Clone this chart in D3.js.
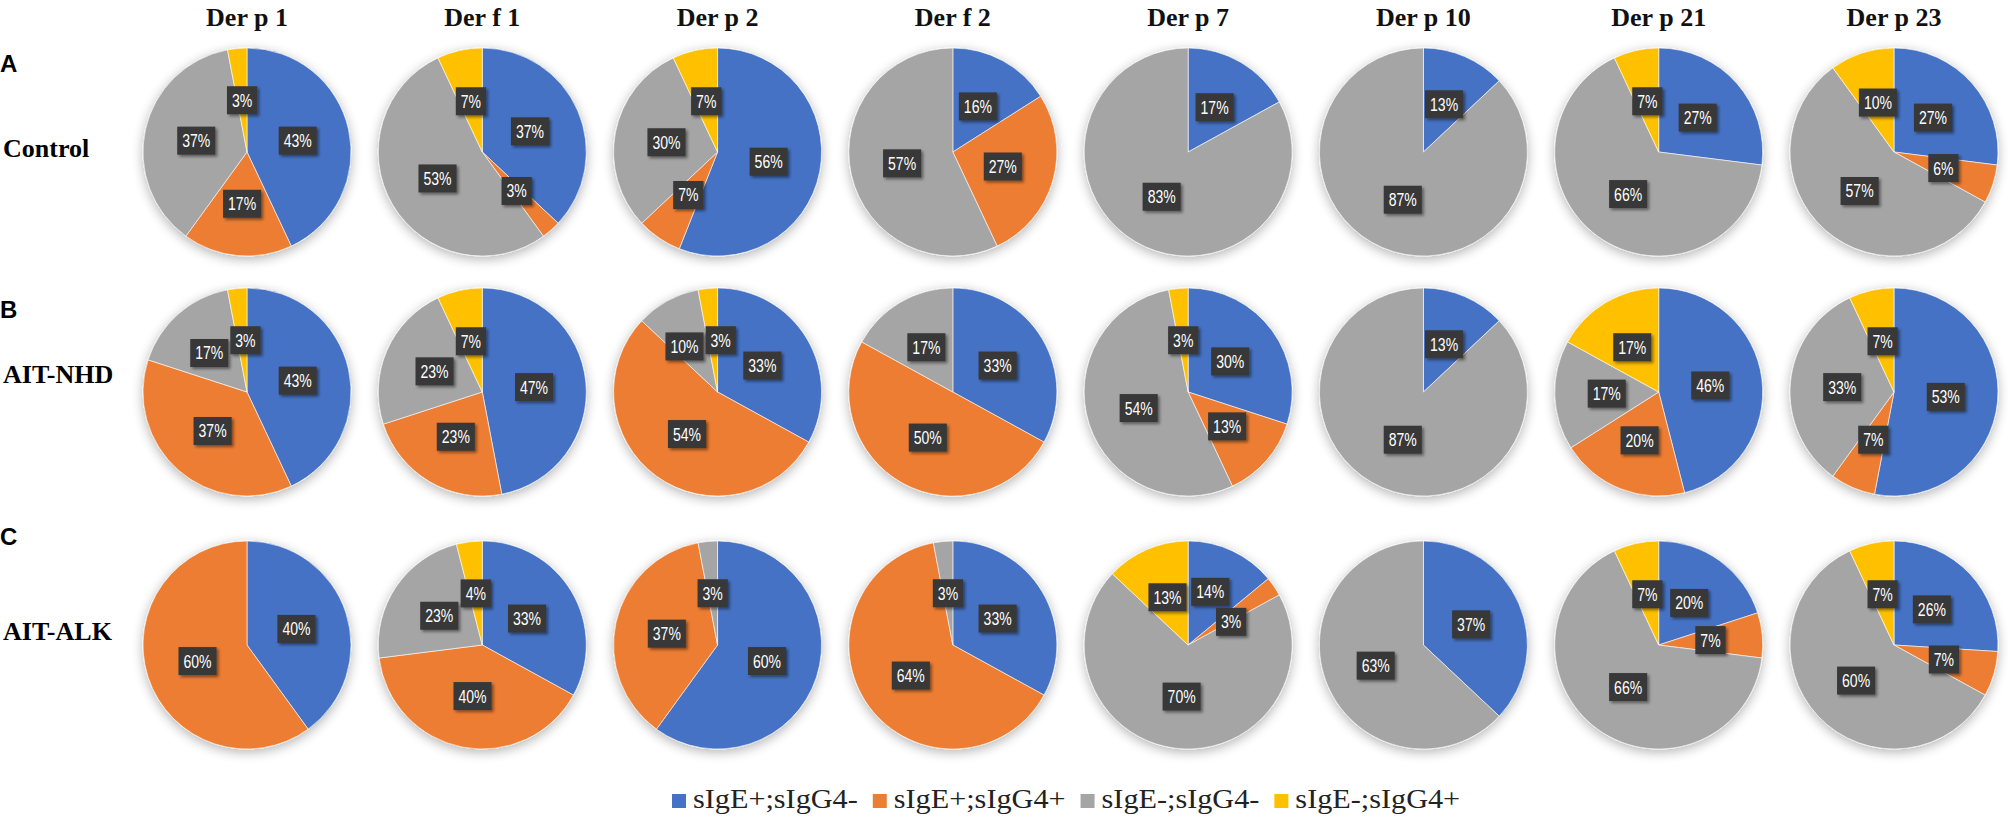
<!DOCTYPE html>
<html><head><meta charset="utf-8">
<script src="https://cdn.jsdelivr.net/npm/d3@7"></script>
<style>body{margin:0;background:#fff}svg{display:block}</style>
</head><body><svg id="chart" width="2008" height="822"></svg>
<script>
// ---------- data ----------
const allergens = ["Der p 1","Der f 1","Der p 2","Der f 2","Der p 7","Der p 10","Der p 21","Der p 23"];
const groups = ["Control","AIT-NHD","AIT-ALK"];
const groupLetters = ["A","B","C"];
const seriesNames = ["sIgE+;sIgG4-","sIgE+;sIgG4+","sIgE-;sIgG4-","sIgE-;sIgG4+"];
// percentages per allergen, in series order [sIgE+;sIgG4-, sIgE+;sIgG4+, sIgE-;sIgG4-, sIgE-;sIgG4+]
const controlValues = [[43,17,37,3],[37,3,53,7],[56,7,30,7],[16,27,57,0],[17,0,83,0],[13,0,87,0],[27,0,66,7],[27,6,57,10]];
const nhdValues     = [[43,37,17,3],[47,23,23,7],[33,54,10,3],[33,50,17,0],[30,13,54,3],[13,0,87,0],[46,20,17,17],[53,7,33,7]];
const alkValues     = [[40,60,0,0],[33,40,23,4],[60,37,3,0],[33,64,3,0],[14,3,70,13],[37,0,63,0],[20,7,66,7],[26,7,60,7]];
const seriesColors = ["#4472C4","#ED7D31","#A5A5A5","#FFC000"];

const groupValues = [controlValues, nhdValues, alkValues];

// ---------- layout ----------
const W = 2008, H = 822, R = 104;
const svg = d3.select("#chart");
svg.append("rect").attr("width",W).attr("height",H).attr("fill","#fff");

const defs = svg.append("defs");
const f1 = defs.append("filter").attr("id","pieShadow").attr("x","-30%").attr("y","-30%").attr("width","160%").attr("height","160%");
f1.append("feGaussianBlur").attr("in","SourceAlpha").attr("stdDeviation",6).attr("result","b");
f1.append("feOffset").attr("in","b").attr("dy",3).attr("result","o");
const ct = f1.append("feComponentTransfer").attr("in","o").attr("result","s");
ct.append("feFuncA").attr("type","linear").attr("slope",0.3);
const m1 = f1.append("feMerge"); m1.append("feMergeNode").attr("in","s"); m1.append("feMergeNode").attr("in","SourceGraphic");

const f2 = defs.append("filter").attr("id","lblShadow").attr("x","-30%").attr("y","-30%").attr("width","160%").attr("height","160%");
f2.append("feDropShadow").attr("dx",2).attr("dy",2).attr("stdDeviation",1.5).attr("flood-color","#000").attr("flood-opacity",0.45);

const x = d3.scalePoint().domain(allergens).range([247,1894]);
const y = d3.scaleOrdinal().domain(groups).range([152,392,645]);
const letterY = d3.scaleOrdinal().domain(groups).range([72,318,545]);
const nameY = d3.scaleOrdinal().domain(groups).range([157,383,640]);
const color = d3.scaleOrdinal().domain(seriesNames).range(seriesColors);

// column headers
svg.append("g").selectAll("text").data(allergens).join("text")
  .attr("x", d => x(d)).attr("y", 26)
  .attr("text-anchor","middle")
  .style("font-family","'Liberation Serif','Times New Roman',serif")
  .style("font-weight","bold").style("font-size","26px").attr("fill","#111")
  .text(d => d);

// row labels
groups.forEach((g,i) => {
  svg.append("text").attr("x",0).attr("y",letterY(g))
    .style("font-family","'Liberation Sans',Arial,sans-serif").style("font-weight","bold")
    .style("font-size","24px").attr("fill","#000").text(groupLetters[i]);
  svg.append("text").attr("x",3).attr("y",nameY(g))
    .style("font-family","'Liberation Serif','Times New Roman',serif").style("font-weight","bold")
    .style("font-size","26px").attr("fill","#000").text(g);
});

const pie = d3.pie().sort(null).value(d => d.v);
const arc = d3.arc().innerRadius(0).outerRadius(R);
const lblArc = d3.arc().innerRadius(R*0.5).outerRadius(R*0.5);
const NARROW = 0.78, BOXH = 28;

groups.forEach((g,gi) => {
  allergens.forEach((a,ai) => {
    const vals = groupValues[gi][ai].map((v,si) => ({s: seriesNames[si], v}));
    const arcs = pie(vals).filter(d => d.data.v > 0);
    const cg = svg.append("g").attr("transform",`translate(${x(a)},${y(g)})`);
    cg.append("g").attr("filter","url(#pieShadow)")
      .selectAll("path").data(arcs).join("path")
      .attr("d", arc).attr("fill", d => color(d.data.s))
      .attr("stroke","#fff").attr("stroke-width",0.6);

    // labels
    const lg = cg.append("g").selectAll("g").data(arcs).join("g");
    const boxes = [];
    lg.each(function(d){
      const gg = d3.select(this);
      const rect = gg.append("rect").attr("fill","#383838").attr("filter","url(#lblShadow)");
      const t = gg.append("text").attr("text-anchor","middle").attr("dy","0.36em")
        .attr("transform",`scale(${NARROW},1)`)
        .style("font-family","'Liberation Sans',Arial,sans-serif")
        .style("font-size","18px").attr("fill","#fff").text(d.data.v + "%");
      const w = t.node().getComputedTextLength()*NARROW + 10;
      rect.attr("x",-w/2).attr("y",-BOXH/2).attr("width",w).attr("height",BOXH);
      const c = lblArc.centroid(d);
      boxes.push({node: this, x: c[0], y: c[1], w, h: BOXH});
    });
    // simple collision resolution
    for (let it = 0; it < 30; it++) {
      let moved = false;
      for (let i = 0; i < boxes.length; i++) for (let j = i+1; j < boxes.length; j++) {
        const A = boxes[i], B = boxes[j];
        const ox = (A.w + B.w)/2 + 2 - Math.abs(A.x - B.x);
        const oy = (A.h + B.h)/2 + 2 - Math.abs(A.y - B.y);
        if (ox > 0 && oy > 0) {
          moved = true;
          if (ox < oy) { const s = A.x < B.x ? -1 : 1; A.x += s*ox/2; B.x -= s*ox/2; }
          else { const s = A.y < B.y ? -1 : 1; A.y += s*oy/2; B.y -= s*oy/2; }
        }
      }
      if (!moved) break;
    }
    boxes.forEach(b => d3.select(b.node).attr("transform",`translate(${b.x},${b.y})`));
  });
});

// legend
const leg = svg.append("g");
let lx = 672;
const LSTRETCH = 1.08;
seriesNames.forEach(s => {
  leg.append("rect").attr("x",lx).attr("y",794).attr("width",14).attr("height",14).attr("fill",color(s));
  const tx = lx + 21;
  const t = leg.append("text").attr("x",0).attr("y",0)
    .attr("transform",`translate(${tx},808) scale(${LSTRETCH},1)`)
    .style("font-family","'Liberation Serif','Times New Roman',serif").style("font-size","28px")
    .attr("fill","#222").text(s);
  lx = tx + t.node().getComputedTextLength()*LSTRETCH + 15;
});
</script></body></html>
